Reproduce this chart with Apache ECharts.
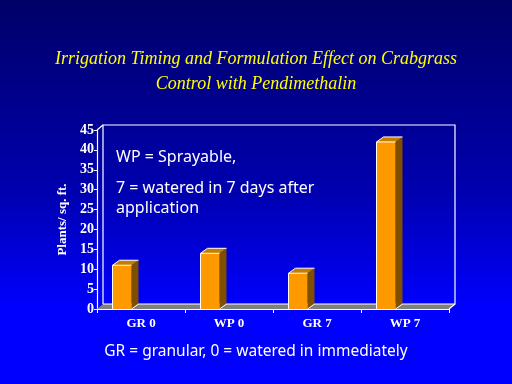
<!DOCTYPE html>
<html>
<head>
<meta charset="utf-8">
<script src="https://cdn.jsdelivr.net/npm/echarts@6/dist/echarts.min.js"></script>
<style>html,body{margin:0;padding:0;}#c{width:512px;height:384px;}</style>
</head>
<body>
<div id="c"></div>
<script>
const categories = ['GR 0', 'WP 0', 'GR 7', 'WP 7'];
const plantsPerSqFt = [11, 14, 9, 42];
const titleLines = ['Irrigation Timing and Formulation Effect on Crabgrass', 'Control with Pendimethalin'];
const yAxisName = 'Plants/ sq. ft.';
const noteLines = ['WP = Sprayable,', '7 = watered in 7 days after', 'application'];
const footNote = 'GR = granular, 0 = watered in immediately';

const DX = 6, DY = -5;          // 3D depth offset
const BAR_W = 19, BAR_SHIFT = -19;
const serif = '"Liberation Serif", "Times New Roman", serif';
const sans = '"Noto Sans", "DejaVu Sans", sans-serif';

const chart = echarts.init(document.getElementById('c'), null, {renderer: 'canvas'});

function renderWalls(params, api) {
  const cs = params.coordSys;
  const x = cs.x, y = cs.y, w = cs.width, h = cs.height;
  const b = y + h, r = x + w;
  return {
    type: 'group',
    children: [
      {type: 'polygon', shape: {points: [[x, b], [x + DX, b + DY], [r + DX, b + DY], [r, b]]},
       style: {fill: '#808080'}},
      {type: 'polyline', shape: {points: [[x + DX, b + DY], [x + DX, y + DY], [r + DX, y + DY], [r + DX, b + DY], [x + DX, b + DY]]},
       style: {stroke: '#ffffff', lineWidth: 1.2, fill: null}},
      {type: 'line', shape: {x1: x, y1: y, x2: x + DX, y2: y + DY}, style: {stroke: '#ffffff', lineWidth: 1.2}},
      {type: 'line', shape: {x1: r, y1: b, x2: r + DX, y2: b + DY}, style: {stroke: '#ffffff', lineWidth: 1.2}}
    ]
  };
}

function renderBar(params, api) {
  const p = api.coord([api.value(0), api.value(1)]);
  const base = api.coord([api.value(0), 0]);
  const x0 = p[0] + BAR_SHIFT - BAR_W / 2, x1 = x0 + BAR_W;
  const t = p[1], bt = base[1];
  return {
    type: 'group',
    children: [
      {type: 'polygon', shape: {points: [[x1, t], [x1 + DX + 1, t + DY], [x1 + DX + 1, bt + DY], [x1, bt]]},
       style: {fill: '#7f4f00'}},
      {type: 'polygon', shape: {points: [[x0, t], [x0 + DX + 1, t + DY], [x1 + DX + 1, t + DY], [x1, t]]},
       style: {fill: '#c47f00'}},
      {type: 'rect', shape: {x: x0, y: t, width: BAR_W, height: bt - t}, style: {fill: '#ff9900'}},
      {type: 'polyline', shape: {points: [[x0, bt], [x0, t], [x0 + DX + 1, t + DY], [x1 + DX + 1, t + DY]]},
       style: {stroke: '#ffffff', lineWidth: 1, fill: null}},
      {type: 'line', shape: {x1: x0, y1: t, x2: x1, y2: t}, style: {stroke: '#ffffff', lineWidth: 1}},
      {type: 'line', shape: {x1: x1, y1: bt, x2: x1 + DX + 1, y2: bt + DY}, style: {stroke: '#ffffff', lineWidth: 1}}
    ]
  };
}

const option = {
  animation: false,
  backgroundColor: {
    type: 'linear', x: 0, y: 0, x2: 0, y2: 1,
    colorStops: [
      {offset: 0, color: '#000068'},
      {offset: 0.5, color: '#0000b0'},
      {offset: 0.8, color: '#0000ff'},
      {offset: 1, color: '#0000ff'}
    ]
  },
  title: {
    text: titleLines.join('\n'),
    left: 'center',
    top: 42,
    textStyle: {
      color: '#ffff00', fontFamily: serif, fontStyle: 'italic', fontWeight: 'normal',
      fontSize: 18, lineHeight: 25
    }
  },
  grid: {left: 97, right: 63, top: 130, bottom: 75},
  xAxis: {
    type: 'category',
    data: categories,
    axisLine: {lineStyle: {color: '#ffffff', width: 1.2}},
    axisTick: {show: true, length: 4, lineStyle: {color: '#ffffff'}},
    axisLabel: {color: '#ffffff', fontFamily: serif, fontWeight: 'bold', fontSize: 13, margin: 8},
    splitLine: {show: false}
  },
  yAxis: {
    type: 'value',
    min: 0, max: 45, interval: 5,
    name: yAxisName,
    nameLocation: 'middle',
    nameGap: 26,
    nameTextStyle: {color: '#ffffff', fontFamily: serif, fontWeight: 'bold', fontSize: 13},
    axisLine: {show: true, lineStyle: {color: '#ffffff', width: 1.2}},
    axisTick: {show: true, length: 3, lineStyle: {color: '#ffffff'}},
    axisLabel: {color: '#ffffff', fontFamily: serif, fontWeight: 'bold', fontSize: 14, margin: 3},
    splitLine: {show: false}
  },
  graphic: [
    {type: 'text', left: 116, top: 149, style: {text: noteLines[0], fill: '#ffffff', font: '16px ' + sans}},
    {type: 'text', left: 116, top: 180, style: {text: noteLines[1], fill: '#ffffff', font: '16px ' + sans}},
    {type: 'text', left: 116, top: 200, style: {text: noteLines[2], fill: '#ffffff', font: '16px ' + sans}},
    {type: 'text', left: 'center', top: 344, style: {text: footNote, fill: '#ffffff', font: '15.5px ' + sans}}
  ],
  series: [
    {type: 'custom', renderItem: renderWalls, data: [[0, 0]], z: 1, silent: true},
    {type: 'custom', renderItem: renderBar, data: categories.map((c, i) => [i, plantsPerSqFt[i]]), z: 5,
     encode: {x: 0, y: 1}}
  ]
};
chart.setOption(option);
</script>
</body>
</html>
